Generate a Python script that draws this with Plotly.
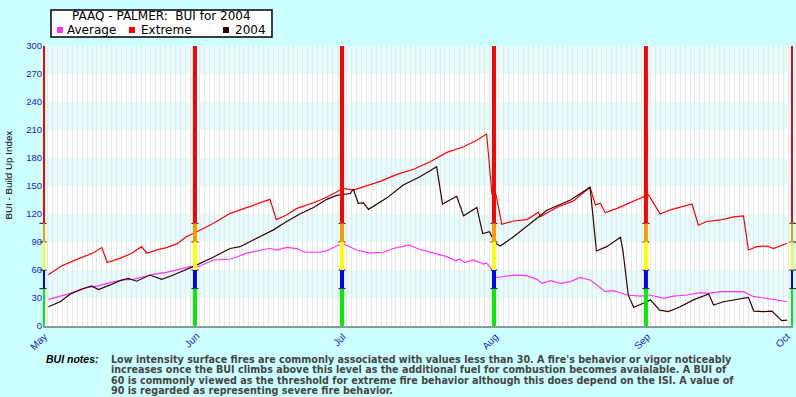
import pandas as pd
import plotly.graph_objects as go

# ---------------- data ----------------
START = "2004-05-01"
month_starts = ["2004-05-01", "2004-06-01", "2004-07-01", "2004-08-01", "2004-09-01", "2004-10-01"]
month_labels = ["May", "Jun", "Jul", "Aug", "Sep", "Oct"]
y_ticks = [0, 30, 60, 90, 120, 150, 180, 210, 240, 270, 300]

# BUI class thresholds and colours for the month bars
bui_edges = [0, 40, 60, 90, 110, 300]
bui_colors = ["#00ee00", "#0000ff", "#ffff00", "#ff9900", "#ff0000"]

# days since May 1 and BUI values
avg_day = [1.1, 3.5, 6.2, 8.9, 11.3, 13.7, 16.1, 18.4, 20.5, 22.5, 25.2, 28, 30, 31.4, 34.8, 38.2,
           41.6, 45, 46.3, 47.7, 49.7, 51.8, 53.5, 56.5, 57.9, 59.9, 61.3, 64, 66.7, 69.4, 71.5,
           74.6, 76.9, 79.7, 82.4, 84.1, 85.1, 86.1, 87.8, 89.9, 90.5, 91.6, 92.1, 92.6, 93.9,
           96, 98.7, 100.8, 101.8, 103.5, 105.5, 107.6, 109.6, 111.6, 113, 114.7, 116.4, 119.1,
           121.8, 123.9, 126.6, 128.6, 131.4, 134.1, 135.8, 138.2, 142.9, 145, 147.7, 149.7, 151.8]
avg_val = [28.6, 32, 35.7, 41, 43, 46.4, 49.3, 50, 52.9, 55.4, 57.5, 61, 63.6, 63, 70.7, 71.5,
           78, 82, 83, 81.4, 84.3, 83, 79, 79, 80.7, 85.7, 87.9, 81.4, 78, 79, 83,
           86.8, 82, 78, 74.3, 70, 71.5, 67.9, 70.7, 66.4, 67.5, 60, 53.6, 52, 52.9,
           54.6, 54, 50, 45.7, 48.6, 45.7, 47.5, 52, 49.3, 44, 36.8, 37.9, 33.2,
           32, 33.2, 29.6, 32, 33.2, 35.7, 35, 36.8, 36.8, 31.4, 29.6, 27.9, 26]

ext_day = [1.1, 3.5, 5.8, 8.2, 10.3, 12, 13.1, 15.7, 18.1, 20.1, 21.2, 23.2, 25.2, 27.3, 29.3,
           31.2, 34.8, 38.2, 41.6, 44.3, 46.3, 47.6, 49.7, 51.8, 55.2, 57.9, 61.3, 63.3, 65.4,
           68.8, 72.2, 75.6, 79, 82.4, 85.8, 88.5, 90.5, 91.6, 92.4, 93.6, 96, 98.7, 101.1,
           101.4, 104.8, 108.2, 111.6, 112.7, 113.7, 114.7, 117.1, 120.5, 123.5, 124.4, 125.9,
           128, 130, 132.4, 133.7, 135.4, 138.2, 140.9, 142.9, 143.9, 145.6, 147.7, 149, 151.8]
ext_val = [55, 63.5, 69, 74, 78.5, 84, 68, 72.5, 78, 85, 78, 81.5, 84, 88, 96,
           100.5, 110, 120.7, 127, 131.4, 135.7, 114, 119, 126, 132, 138, 147.5, 145.7, 149,
           155, 162.5, 168, 176, 186, 192, 199, 205.7, 141, 141, 109, 112.5, 114, 122,
           117, 127, 134, 148.6, 129.6, 131.5, 121.4, 126, 133.5, 140.7, 133, 120,
           124.5, 127, 130.7, 108, 112, 113.6, 117, 118, 81.4, 85, 85.7, 83, 88.6]

y04_day = [1.1, 3.5, 5.8, 7.9, 9.9, 11.3, 13.7, 15.7, 17.4, 19.1, 21.8, 24.2, 26.6, 29.3, 31.2,
           34.8, 38.2, 40.2, 42.9, 47, 49.7, 52.4, 55.2, 57.9, 59.9, 62.7, 63.3, 64.3, 65.4,
           66.4, 70.1, 73.5, 76.9, 80.3, 81.5, 84.4, 85.8, 88.5, 89.7, 91.1, 92.2, 93.3, 96,
           99.4, 102.8, 107.6, 109.6, 111.6, 112.9, 115, 117.8, 118.3, 119.4, 120.5, 123.2,
           123.9, 125.8, 127.6, 130, 132.7, 135.8, 136.8, 138.8, 141.6, 143.9, 145, 147, 148.7,
           149.7, 150.7, 151.8]
y04_val = [20.7, 26, 35, 39.6, 43, 39, 44, 48.6, 51, 48, 54.6, 50, 54.6, 60.7, 65,
           74, 83, 85, 92, 103, 112, 120, 127, 135.7, 140, 142, 146.8, 131.5, 132,
           125, 137, 151, 160, 170.7, 130.7, 139, 118, 127, 99, 101, 89, 85.7, 95.7,
           110, 124, 135, 142, 148.6, 80.4, 85, 95, 81, 33, 20, 26,
           28, 17, 15.4, 20.7, 28, 34.3, 22.5, 26, 28.6, 30.7, 16, 15.4, 16,
           10.7, 5.7, 6.4]

title_text = "PAAQ - PALMER:\u00a0 BUI for 2004"
series_names = ["Average", "Extreme", "2004"]
series_colors = ["#ff33ff", "#ff0000", "#330000"]
notes_label = "BUI notes:"
notes_lines = [
    "Low intensity surface fires are commonly associated with values less than 30. A fire's behavior or vigor noticeably",
    "increases once the BUI climbs above this level as the additional fuel for combustion becomes avaialable. A BUI of",
    "60 is commonly viewed as the threshold for extreme fire behavior although this does depend on the ISI. A value of",
    "90 is regarded as representing severe fire behavior.",
]

# ---------------- layout constants ----------------
W, H = 796, 397
ML, MR, MT, MB = 43, 3, 46, 71
PW, PH = W - ML - MR, H - MT - MB
FONT = "Liberation Sans, Arial, sans-serif"
WIDE = "DejaVu Sans, Verdana, sans-serif"
BG = "#ccffff"
BAND = "#e6fbfc"
TICK_BLUE = "#1a1acc"


def px_x(p):
    return (p - ML) / PW


def px_y(p):
    return (H - MB - p) / PH


def to_dates(days):
    return pd.Timestamp(START) + pd.to_timedelta(days, unit="D")


fig = go.Figure()

for name, color, d, v in [
    (series_names[0], series_colors[0], avg_day, avg_val),
    (series_names[1], series_colors[1], ext_day, ext_val),
    (series_names[2], series_colors[2], y04_day, y04_val),
]:
    fig.add_trace(go.Scatter(x=to_dates(d), y=v, mode="lines", name=name,
                             line=dict(color=color, width=1.2), showlegend=False))

shapes = []
# alternating horizontal bands
for i in range(len(y_ticks) - 1):
    lo, hi = y_ticks[i], y_ticks[i + 1]
    shapes.append(dict(type="rect", xref="paper", yref="y", x0=0, x1=1, y0=lo, y1=hi,
                       fillcolor=("#ffffff" if i % 2 == 0 else BAND), line=dict(width=0),
                       layer="below"))

# coloured month bars
for m in month_starts:
    for j in range(len(bui_colors)):
        shapes.append(dict(type="line", xref="x", yref="y", x0=m, x1=m,
                           y0=bui_edges[j], y1=bui_edges[j + 1],
                           line=dict(color=bui_colors[j], width=4), layer="above"))

# threshold separators on the bars
sep_x, sep_y = [], []
for m in month_starts:
    for e in bui_edges[1:-1]:
        sep_x.append(m)
        sep_y.append(e)
fig.add_trace(go.Scatter(x=sep_x, y=sep_y, mode="markers", showlegend=False, cliponaxis=False,
                         marker=dict(symbol="line-ew", size=5, line=dict(color="#111111", width=1))))

# legend box
shapes.append(dict(type="rect", xref="paper", yref="paper", x0=px_x(51), x1=px_x(272),
                   y0=px_y(37), y1=px_y(10), fillcolor="#ffffff",
                   line=dict(color="#000000", width=1.5), layer="above"))
sq = [57, 129, 223]
txt_x = [65, 139, 233]
for k in range(3):
    shapes.append(dict(type="rect", xref="paper", yref="paper", x0=px_x(sq[k]), x1=px_x(sq[k] + 6),
                       y0=px_y(33), y1=px_y(27), fillcolor=series_colors[k], line=dict(width=0),
                       layer="above"))

annotations = [
    dict(x=px_x(161), y=px_y(16.5), xref="paper", yref="paper", text=title_text, showarrow=False,
         xanchor="center", yanchor="middle", font=dict(family=WIDE, size=12, color="#000000")),
]
for k in range(3):
    annotations.append(dict(x=px_x(txt_x[k]), y=px_y(30.5), xref="paper", yref="paper",
                            text=series_names[k], showarrow=False, xanchor="left", yanchor="middle",
                            font=dict(family=WIDE, size=12, color="#000000")))

# month tick labels (rotated, ending just right of each month line)
t0 = pd.Timestamp(month_starts[0])
t1 = pd.Timestamp(month_starts[-1])
for m, lab in zip(month_starts, month_labels):
    tick_px = ML + PW * (pd.Timestamp(m) - t0) / (t1 - t0)
    right = min(tick_px + 9, W - 1)
    annotations.append(dict(x=px_x(right), y=px_y(328), xref="paper", yref="paper",
                            text=lab, textangle=-45, showarrow=False,
                            xanchor="right", yanchor="top",
                            font=dict(family=FONT, size=10, color=TICK_BLUE)))

# y axis title
annotations.append(dict(x=px_x(8), y=px_y(175.5), xref="paper", yref="paper",
                        text="BUI - Build Up Index", textangle=-90, showarrow=False,
                        xanchor="center", yanchor="middle",
                        font=dict(family=FONT, size=9.8, color="#000000")))

# notes
annotations.append(dict(x=px_x(44), y=px_y(359), xref="paper", yref="paper",
                        text="<b><i>" + notes_label + "</i></b>", showarrow=False,
                        xanchor="left", yanchor="middle",
                        font=dict(family=FONT, size=10.5, color="#000000")))
for i, line in enumerate(notes_lines):
    annotations.append(dict(x=px_x(109), y=px_y(359 + 10.5 * i), xref="paper", yref="paper",
                            text="<b>" + line + "</b>", showarrow=False,
                            xanchor="left", yanchor="middle",
                            font=dict(family=WIDE, size=9.6, color="#444444")))

fig.update_layout(
    width=W, height=H,
    margin=dict(l=ML, r=MR, t=MT, b=MB, pad=0, autoexpand=False),
    paper_bgcolor=BG, plot_bgcolor="#ffffff",
    shapes=shapes, annotations=annotations,
    showlegend=False,
    font=dict(family=FONT),
)

fig.update_xaxes(
    type="date", range=[month_starts[0], month_starts[-1]],
    tickmode="array", tickvals=month_starts, showticklabels=False,
    ticks="", automargin=False,
    showgrid=False,
    minor=dict(dtick=86400000, tick0=START, showgrid=True, gridcolor="#e2eaea", gridwidth=1),
    showline=True, linecolor="#8a9a9a", linewidth=2,
    zeroline=False,
)
fig.update_yaxes(
    range=[0, 300], tickmode="array", tickvals=y_ticks, automargin=False,
    ticks="", tickfont=dict(family=FONT, size=9.5, color=TICK_BLUE),
    showgrid=False, zeroline=False, showline=False,
)

fig.write_html("out.html", config={"displayModeBar": False},
               post_script="document.body.style.margin='0';document.body.style.background='#ccffff';")
